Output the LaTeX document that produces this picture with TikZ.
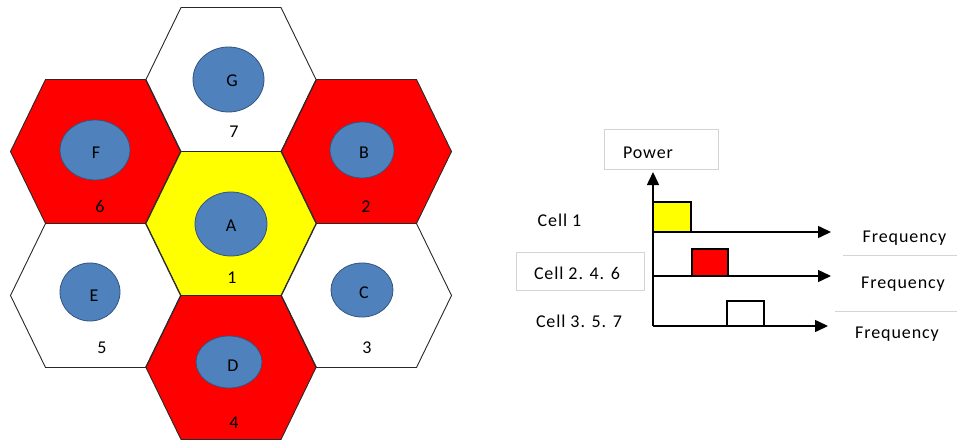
\documentclass[tikz,border=0pt]{standalone}
\usepackage{fontspec}
\setmainfont{Carlito}[LetterSpace=5]
\usetikzlibrary{arrows.meta,shapes.geometric}

\definecolor{cellred}{RGB}{255,0,0}
\definecolor{cellyellow}{RGB}{255,255,0}
\definecolor{stationblue}{RGB}{79,129,189}
\definecolor{stationedge}{RGB}{52,84,126}
\definecolor{boxgray}{RGB}{212,212,212}
\definecolor{hexedge}{RGB}{40,40,40}

% flat-topped cell: centre x, centre y, fill colour
\newcommand{\hexcell}[3]{%
  \draw[hexline, fill=#3] (#1-85,#2) -- (#1-50,#2-72) -- (#1+50,#2-72)
    -- (#1+85,#2) -- (#1+50,#2+72) -- (#1-50,#2+72) -- cycle;}

\tikzset{
  hexline/.style={draw=hexedge, line width=0.9pt, line join=miter},
  station/.style={ellipse, draw=stationedge, fill=stationblue, line width=0.8pt, inner sep=0pt},
  lbl/.style={anchor=base, inner sep=0pt, font=\fontsize{18}{20}\selectfont},
  txtbox/.style={draw=boxgray, line width=0.7pt},
  axis/.style={line width=1.5pt, -{Triangle[length=13pt,width=12pt]}},
  band/.style={draw=black, line width=1.2pt},
}

\begin{document}
\begin{tikzpicture}[x=1pt,y=-1pt]
\useasboundingbox (0,0) rectangle (957,441);
\fill[white] (0,0) rectangle (957,441);

% ---- cell cluster ----
\hexcell{231}{79.5}{white}
\hexcell{95.5}{151.5}{cellred}
\hexcell{366.5}{151.5}{cellred}
\hexcell{231}{223.5}{cellyellow}
\hexcell{95.5}{295.5}{white}
\hexcell{366.5}{295.5}{white}
\hexcell{231}{367.5}{cellred}

% base stations
\node[station, minimum width=71pt, minimum height=65pt] (stG) at (228.5,79.5) {};
\node[station, minimum width=70pt, minimum height=60pt] (stF) at (95,150) {};
\node[station, minimum width=64pt, minimum height=56pt] (stB) at (362,150) {};
\node[station, minimum width=72pt, minimum height=64pt] (stA) at (231,224) {};
\node[station, minimum width=60pt, minimum height=58pt] (stE) at (90,292) {};
\node[station, minimum width=62pt, minimum height=54pt] (stC) at (362,290) {};
\node[station, minimum width=66pt, minimum height=52pt] (stD) at (229,362) {};

% station letters
\node[lbl] (lG) at (232,86.5) {G};
\node[lbl] (lF) at (96,158.5) {F};
\node[lbl] (lB) at (364,158.5) {B};
\node[lbl] (lA) at (231,231.5) {A};
\node[lbl] (lE) at (94,301.5) {E};
\node[lbl] (lC) at (364,298.5) {C};
\node[lbl] (lD) at (233,371.5) {D};

% cell numbers
\node[lbl] (n7) at (234,137.5) {7};
\node[lbl] (n6) at (100,212.5) {6};
\node[lbl] (n2) at (366,212.5) {2};
\node[lbl] (n1) at (232,283.5) {1};
\node[lbl] (n5) at (102,353.5) {5};
\node[lbl] (n3) at (367,353.5) {3};
\node[lbl] (n4) at (234,428.5) {4};

% ---- spectrum allocation ----
\node[txtbox, minimum width=114pt, minimum height=40pt, inner sep=0pt] (powbox) at (661,149) {};
\node[lbl] (power) at (648,158) {Power};

\coordinate (vbot) at (653,326);
\coordinate (vtop) at (653,172);
\draw[axis] (vbot) -- (vtop);

\coordinate (o1) at (653,232);
\coordinate (e1) at (831,232);
\coordinate (o2) at (653,276);
\coordinate (e2) at (831,276);
\coordinate (o3) at (653,326);
\coordinate (e3) at (828,326);
\draw[axis] (o1) -- (e1);
\draw[axis] (o2) -- (e2);
\draw[axis] (o3) -- (e3);

% occupied bands
\draw[band, fill=cellyellow] (653,232) rectangle (691,202);
\draw[band, fill=cellred] (692,276) rectangle (728,249);
\draw[band, fill=white] (727,326) rectangle (764,301);

% row labels
\node[lbl] (c1) at (559.5,226) {Cell 1};
\node[txtbox, minimum width=128pt, minimum height=38pt, inner sep=0pt] (c246box) at (580,271) {};
\node[lbl] (c246) at (577,279) {Cell 2. 4. 6};
\node[lbl] (c357) at (579,327) {Cell 3. 5. 7};

% frequency labels
\node[lbl] (f1) at (904.5,242) {Frequency};
\node[lbl] (f2) at (903,288) {Frequency};
\node[lbl] (f3) at (897,338) {Frequency};
\coordinate (r2a) at (843,255);
\coordinate (r2b) at (957,255);
\coordinate (r3a) at (835,311);
\coordinate (r3b) at (957,311);
\draw[boxgray, line width=0.7pt] (r2a) -- (r2b);
\draw[boxgray, line width=0.7pt] (r3a) -- (r3b);
\end{tikzpicture}
\end{document}
